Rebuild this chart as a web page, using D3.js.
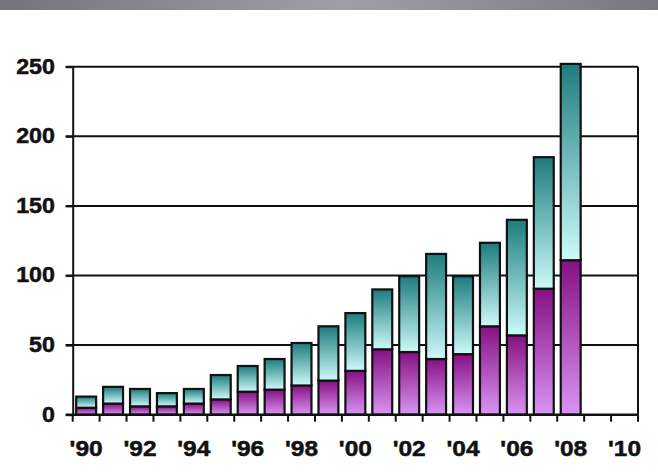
<!DOCTYPE html>
<html>
<head>
<meta charset="utf-8">
<script src="https://cdn.jsdelivr.net/npm/d3@7"></script>
<style>
  body { margin: 0; background: #fff; }
  svg { display: block; }
  text { font-family: "Liberation Sans", Arial, sans-serif; font-weight: bold; fill: #111; stroke: #111; stroke-width: 0.5px; }
</style>
</head>
<body>
<svg id="chart" width="658" height="473"></svg>
<script>
// years on the axis (1990 - 2010), bars only up to 2008
var years = d3.range(1990, 2011);
var barYears = d3.range(1990, 2009);

// lower (purple) part and upper (teal) part of each stacked bar
var lowerVals = [5, 8, 6, 6, 8, 11, 16.5, 18, 21, 24.5, 31.5, 47, 45, 40, 43.5, 63.5, 57, 90.5, 111];
var upperVals = [8, 12, 12.5, 9.5, 10.5, 17.5, 18.5, 22, 30.5, 39, 41.5, 43, 54.5, 75.5, 56, 60, 83, 94.5, 141];

var yTicks = [0, 50, 100, 150, 200, 250];
var xLabels = ["'90", "'92", "'94", "'96", "'98", "'00", "'02", "'04", "'06", "'08", "'10"];
var labelYears = d3.range(1990, 2011, 2);

var svg = d3.select("#chart");

var plotL = 72.7, plotR = 638, plotT = 66.7, plotB = 414.7;

var x = d3.scaleBand()
    .domain(years)
    .range([plotL, plotR])
    .paddingInner(0.26)
    .paddingOuter(0.13);

var y = d3.scaleLinear()
    .domain([0, 250])
    .range([plotB, plotT]);

var defs = svg.append("defs");

// gray band at the top of the slide
var band = defs.append("linearGradient").attr("id", "band");
band.append("stop").attr("offset", "0%").attr("stop-color", "#77737a");
band.append("stop").attr("offset", "52%").attr("stop-color", "#a29ea5");
band.append("stop").attr("offset", "100%").attr("stop-color", "#7b777e");

var teal = defs.append("linearGradient").attr("id", "teal")
    .attr("x1", 0).attr("y1", 0).attr("x2", 0).attr("y2", 1);
teal.append("stop").attr("offset", "0%").attr("stop-color", "#1d7c7e");
teal.append("stop").attr("offset", "100%").attr("stop-color", "#cdfafa");

var purple = defs.append("linearGradient").attr("id", "purple")
    .attr("x1", 0).attr("y1", 0).attr("x2", 0).attr("y2", 1);
purple.append("stop").attr("offset", "0%").attr("stop-color", "#861082");
purple.append("stop").attr("offset", "100%").attr("stop-color", "#d994f4");

svg.append("rect")
    .attr("x", 0).attr("y", 0)
    .attr("width", 658).attr("height", 10)
    .attr("fill", "url(#band)");

// gridlines
svg.append("g").selectAll("line")
    .data(yTicks.filter(function(d){ return d > 0; }))
    .enter()
    .append("line")
    .attr("x1", plotL - 7).attr("x2", plotR)
    .attr("y1", function(d){ return y(d); })
    .attr("y2", function(d){ return y(d); })
    .attr("stroke", "#111")
    .attr("stroke-width", 2);

// right border
svg.append("line")
    .attr("x1", plotR).attr("x2", plotR)
    .attr("y1", y(250)).attr("y2", y(0))
    .attr("stroke", "#111").attr("stroke-width", 2);

// stacked bars
var bars = svg.append("g").attr("class", "bars");

bars.selectAll("rect.lower")
    .data(barYears)
    .enter()
    .append("rect")
    .attr("class", "lower")
    .attr("x", function(d){ return x(d); })
    .attr("width", x.bandwidth())
    .attr("y", function(d, i){ return y(lowerVals[i]); })
    .attr("height", function(d, i){ return y(0) - y(lowerVals[i]); })
    .attr("fill", "url(#purple)")
    .attr("stroke", "#111")
    .attr("stroke-width", 2.2);

bars.selectAll("rect.upper")
    .data(barYears)
    .enter()
    .append("rect")
    .attr("class", "upper")
    .attr("x", function(d){ return x(d); })
    .attr("width", x.bandwidth())
    .attr("y", function(d, i){ return y(lowerVals[i] + upperVals[i]); })
    .attr("height", function(d, i){ return y(lowerVals[i]) - y(lowerVals[i] + upperVals[i]); })
    .attr("fill", "url(#teal)")
    .attr("stroke", "#111")
    .attr("stroke-width", 2.2);

// y axis
var yAxis = svg.append("g")
    .attr("transform", "translate(" + plotL + ",0)")
    .call(d3.axisLeft(y).tickValues(yTicks).tickSize(7).tickSizeOuter(0).tickFormat(d3.format("d")));
yAxis.select(".domain").attr("stroke", "#111").attr("stroke-width", 2);
yAxis.selectAll(".tick line").attr("stroke", "#111").attr("stroke-width", 2);
yAxis.selectAll(".tick text")
    .attr("x", -16.5)
    .attr("dy", "0.3em")
    .attr("font-size", 21.5)
    .attr("font-family", null)
    .attr("fill", "#111")
    .attr("transform", "scale(1.08,1)");

// x axis baseline and ticks at the slot boundaries
svg.append("line")
    .attr("x1", plotL - 7).attr("x2", plotR)
    .attr("y1", y(0)).attr("y2", y(0))
    .attr("stroke", "#111").attr("stroke-width", 2.5);

var step = x.step();
svg.append("g").selectAll("line")
    .data(years.concat([2011]))
    .enter()
    .append("line")
    .attr("x1", function(d){ return plotL + (d - 1990) * step; })
    .attr("x2", function(d){ return plotL + (d - 1990) * step; })
    .attr("y1", y(0))
    .attr("y2", y(0) + 7)
    .attr("stroke", "#111")
    .attr("stroke-width", 2);

svg.append("g").selectAll("text")
    .data(labelYears)
    .enter()
    .append("text")
    .attr("transform", function(d){
        return "translate(" + (x(d) + x.bandwidth() / 2) + "," + (y(0) + 41.5) + ") scale(1.14,1)";
    })
    .attr("text-anchor", "middle")
    .attr("font-size", 21.5)
    .text(function(d, i){ return xLabels[i]; });
</script>
</body>
</html>
